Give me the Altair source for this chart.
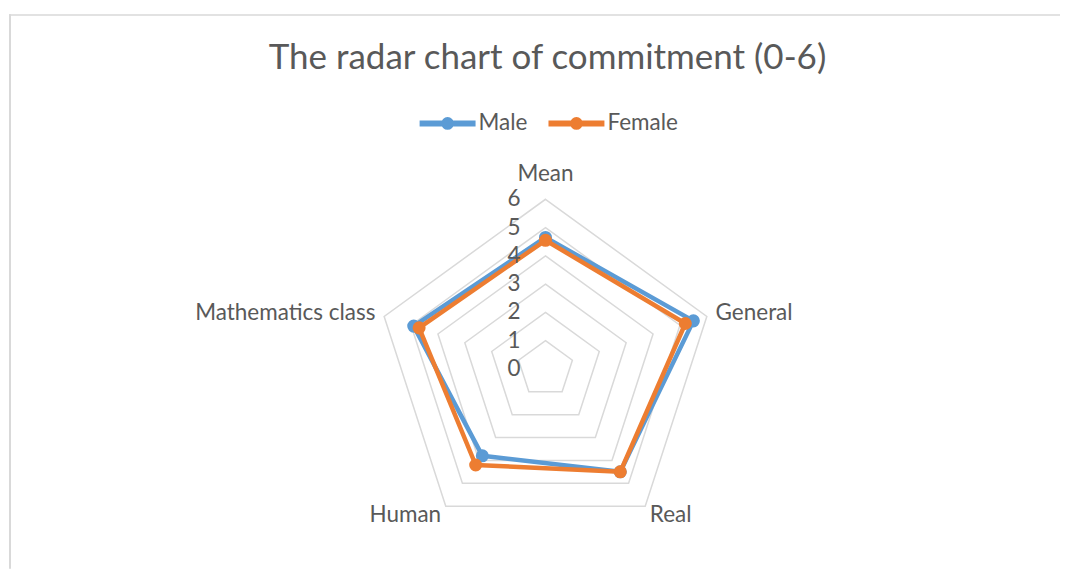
import altair as alt
import pandas as pd

# ---- data ----
categories = ["Mean", "General", "Real", "Human", "Mathematics class"]
male = [4.65, 5.5, 4.5, 3.8, 4.9]
female = [4.55, 5.2, 4.5, 4.2, 4.7]
series = ["Male", "Female"]
ring_levels = [1, 2, 3, 4, 5, 6]
tick_labels = [0, 1, 2, 3, 4, 5, 6]
title_text = "The radar chart of commitment (0-6)"

# ---- styles / layout ----
colors = ["#5B9BD5", "#ED7D31"]
FONT = "Lato"
TXT = "#595959"
GRID = "#D9D9D9"
W, H = 1052, 555
S = 28.3            # pixels per unit
CX, CY = 537, 355   # centre inside the plot area
xdom = [-CX / S, (W - CX) / S]
ydom = [-(H - CY) / S, CY / S]
LABEL_R = 6.4
FS = 22.5

rows = []
for s, vals in zip(series, [male, female]):
    for i, (c, v) in enumerate(zip(categories, vals)):
        rows.append({"series": s, "category": c, "idx": i, "value": v})
df = pd.DataFrame(rows)
rings = pd.DataFrame([{"level": l, "idx": i} for l in ring_levels for i in range(len(categories))])
labels = pd.DataFrame({"category": categories, "idx": list(range(len(categories)))})
ticks = pd.DataFrame({"tick": tick_labels})
one = pd.DataFrame({"k": [0]})

N = len(categories)
ang = f"(datum.idx * 2 * PI / {N})"

xs = alt.Scale(domain=xdom, nice=False, zero=False)
ys = alt.Scale(domain=ydom, nice=False, zero=False)


def X():
    return alt.X("px:Q", scale=xs, axis=None)


def Y():
    return alt.Y("py:Q", scale=ys, axis=None)


grid = alt.Chart(rings).transform_calculate(
    px=f"datum.level * sin({ang})", py=f"datum.level * cos({ang})"
).mark_line(interpolate="linear-closed", color=GRID, strokeWidth=1.5).encode(
    x=X(), y=Y(), detail="level:N", order="idx:Q"
)

sym_path = ("M-1,0L1,0M-0.12,0A0.12,0.12,0,1,1,0.12,0"
            "A0.12,0.12,0,1,1,-0.12,0")
color_scale = alt.Scale(domain=series, range=colors)
legend = alt.Legend(
    title=None, orient="none", legendX=408, legendY=78, direction="horizontal",
    symbolType=sym_path, symbolSize=3136, symbolStrokeWidth=6,
    labelFont=FONT, labelFontSize=FS, labelColor=TXT, labelOffset=0,
    columnPadding=9, padding=0,
)

layers = [grid]
for name in series:
    base = alt.Chart(df).transform_filter(alt.datum.series == name).transform_calculate(
        px=f"datum.value * sin({ang})", py=f"datum.value * cos({ang})"
    )
    line = base.mark_line(interpolate="linear-closed", strokeWidth=4.5,
                          strokeJoin="round", strokeCap="round").encode(
        x=X(), y=Y(), order="idx:Q",
        color=alt.Color("series:N", scale=color_scale, legend=legend),
    )
    pts = base.mark_circle(size=170, opacity=1).encode(
        x=X(), y=Y(),
        color=alt.Color("series:N", scale=color_scale, legend=legend),
    )
    layers += [line, pts]

tick_txt = alt.Chart(ticks).transform_calculate(px="0", py="datum.tick").mark_text(
    align="right", baseline="middle", dx=-25, font=FONT, fontSize=FS, color=TXT
).encode(x=X(), y=Y(), text="tick:Q")

lab_base = alt.Chart(labels).transform_calculate(
    px=f"{LABEL_R} * sin({ang})", py=f"{LABEL_R} * cos({ang})"
)
lab_kw = dict(font=FONT, fontSize=FS, color=TXT)
lab_top = lab_base.transform_filter("abs(datum.px) < 0.01").mark_text(
    align="center", baseline="alphabetic", dy=-7, **lab_kw).encode(x=X(), y=Y(), text="category:N")
lab_right = lab_base.transform_filter("datum.px >= 0.01").mark_text(
    align="left", baseline="middle", dx=-2, **lab_kw).encode(x=X(), y=Y(), text="category:N")
lab_left = lab_base.transform_filter("datum.px <= -0.01").mark_text(
    align="right", baseline="middle", dx=2, **lab_kw).encode(x=X(), y=Y(), text="category:N")

frame_top = alt.Chart(one).mark_rule(color=GRID, strokeWidth=1.5).encode(
    x=alt.value(0), x2=alt.value(W), y=alt.value(0.75))
frame_left = alt.Chart(one).mark_rule(color=GRID, strokeWidth=2).encode(
    x=alt.value(1), y=alt.value(0), y2=alt.value(H))

chart = alt.layer(frame_top, frame_left, *layers, tick_txt, lab_top, lab_right, lab_left).properties(
    width=W, height=H,
    padding={"left": 0, "top": 5, "right": 0, "bottom": 0},
    title=alt.TitleParams(
        text=title_text, font=FONT, fontSize=35, color=TXT, fontWeight="normal",
        anchor="middle", offset=0, baseline="alphabetic", dy=91, dx=13,
    ),
    background="white",
).configure_view(stroke=None)

chart.save("out.html", embed_options={"renderer": "svg", "actions": False})
